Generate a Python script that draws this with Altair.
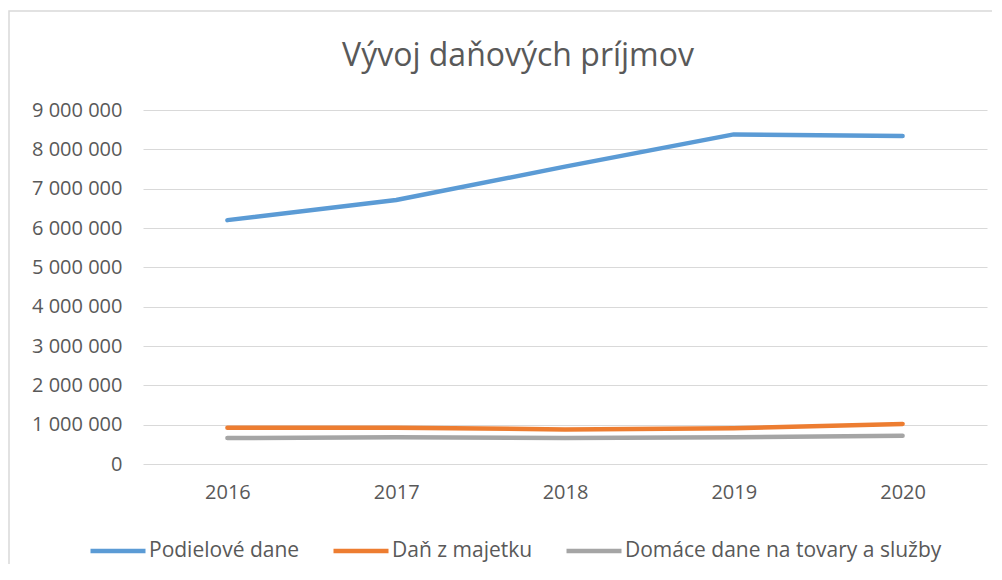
import altair as alt
import pandas as pd

years = ["2016", "2017", "2018", "2019", "2020"]
series_names = ["Podielové dane", "Daň z majetku", "Domáce dane na tovary a služby"]
podielove = [6200000, 6710000, 7560000, 8380000, 8340000]
majetok = [920000, 920000, 880000, 910000, 1020000]
domace = [660000, 680000, 660000, 680000, 720000]
colors = ["#5B9BD5", "#ED7D31", "#A5A5A5"]
y_ticks = [0, 1000000, 2000000, 3000000, 4000000, 5000000, 6000000, 7000000, 8000000, 9000000]

rows = []
for name, vals in zip(series_names, [podielove, majetok, domace]):
    for y, v in zip(years, vals):
        rows.append({"rok": y, "seria": name, "hodnota": v})
df = pd.DataFrame(rows)

FONT = "Open Sans"
GREY = "#595959"

lines = alt.Chart(df).mark_line(strokeWidth=4.5, strokeCap="round", strokeJoin="round").encode(
    x=alt.X("rok:O", sort=years, scale=alt.Scale(type="point", padding=0.5),
            axis=alt.Axis(title=None, labelAngle=0, labelFontSize=20, labelColor=GREY,
                          labelFont=FONT, labelPadding=18, ticks=False, domain=False, grid=False)),
    y=alt.Y("hodnota:Q", scale=alt.Scale(domain=[0, 9000000], nice=False),
            axis=alt.Axis(title=None, values=y_ticks, format=",d", labelFontSize=20,
                          labelColor=GREY, labelFont=FONT, labelPadding=21, ticks=False,
                          domain=False, grid=True, gridColor="#D9D9D9", gridWidth=1.2)),
    color=alt.Color("seria:N", sort=series_names,
                    scale=alt.Scale(domain=series_names, range=colors),
                    legend=alt.Legend(title=None, orient="none", legendX=-55, legendY=411,
                                      direction="horizontal", symbolType="stroke",
                                      symbolSize=3025, symbolStrokeWidth=4.5,
                                      labelFontSize=21, labelColor=GREY, labelFont=FONT,
                                      labelLimit=0, columnPadding=24, labelOffset=1, padding=0)),
    detail="seria:N",
)

frame = alt.Chart(pd.DataFrame({"f": [0]})).mark_rect(
    fill=None, stroke="#D9D9D9", strokeWidth=1.5
).encode(
    x=alt.value(-134), x2=alt.value(900), y=alt.value(-99), y2=alt.value(520)
)

chart = alt.layer(frame, lines).properties(
    width=844,
    height=354,
    autosize=alt.AutoSizeParams(type="none"),
    padding={"left": 135, "top": 102, "right": 5, "bottom": 100},
    title=alt.TitleParams("Vývoj daňových príjmov", fontSize=32, font=FONT, fontWeight="normal",
                          color=GREY, anchor="middle", dx=-47, offset=-88, baseline="alphabetic"),
).configure(
    locale={"number": {"decimal": ",", "thousands": " ", "grouping": [3], "currency": ["", " €"]}}
).configure_view(stroke=None)

chart.save("out.html", embed_options={"renderer": "svg", "actions": False})
